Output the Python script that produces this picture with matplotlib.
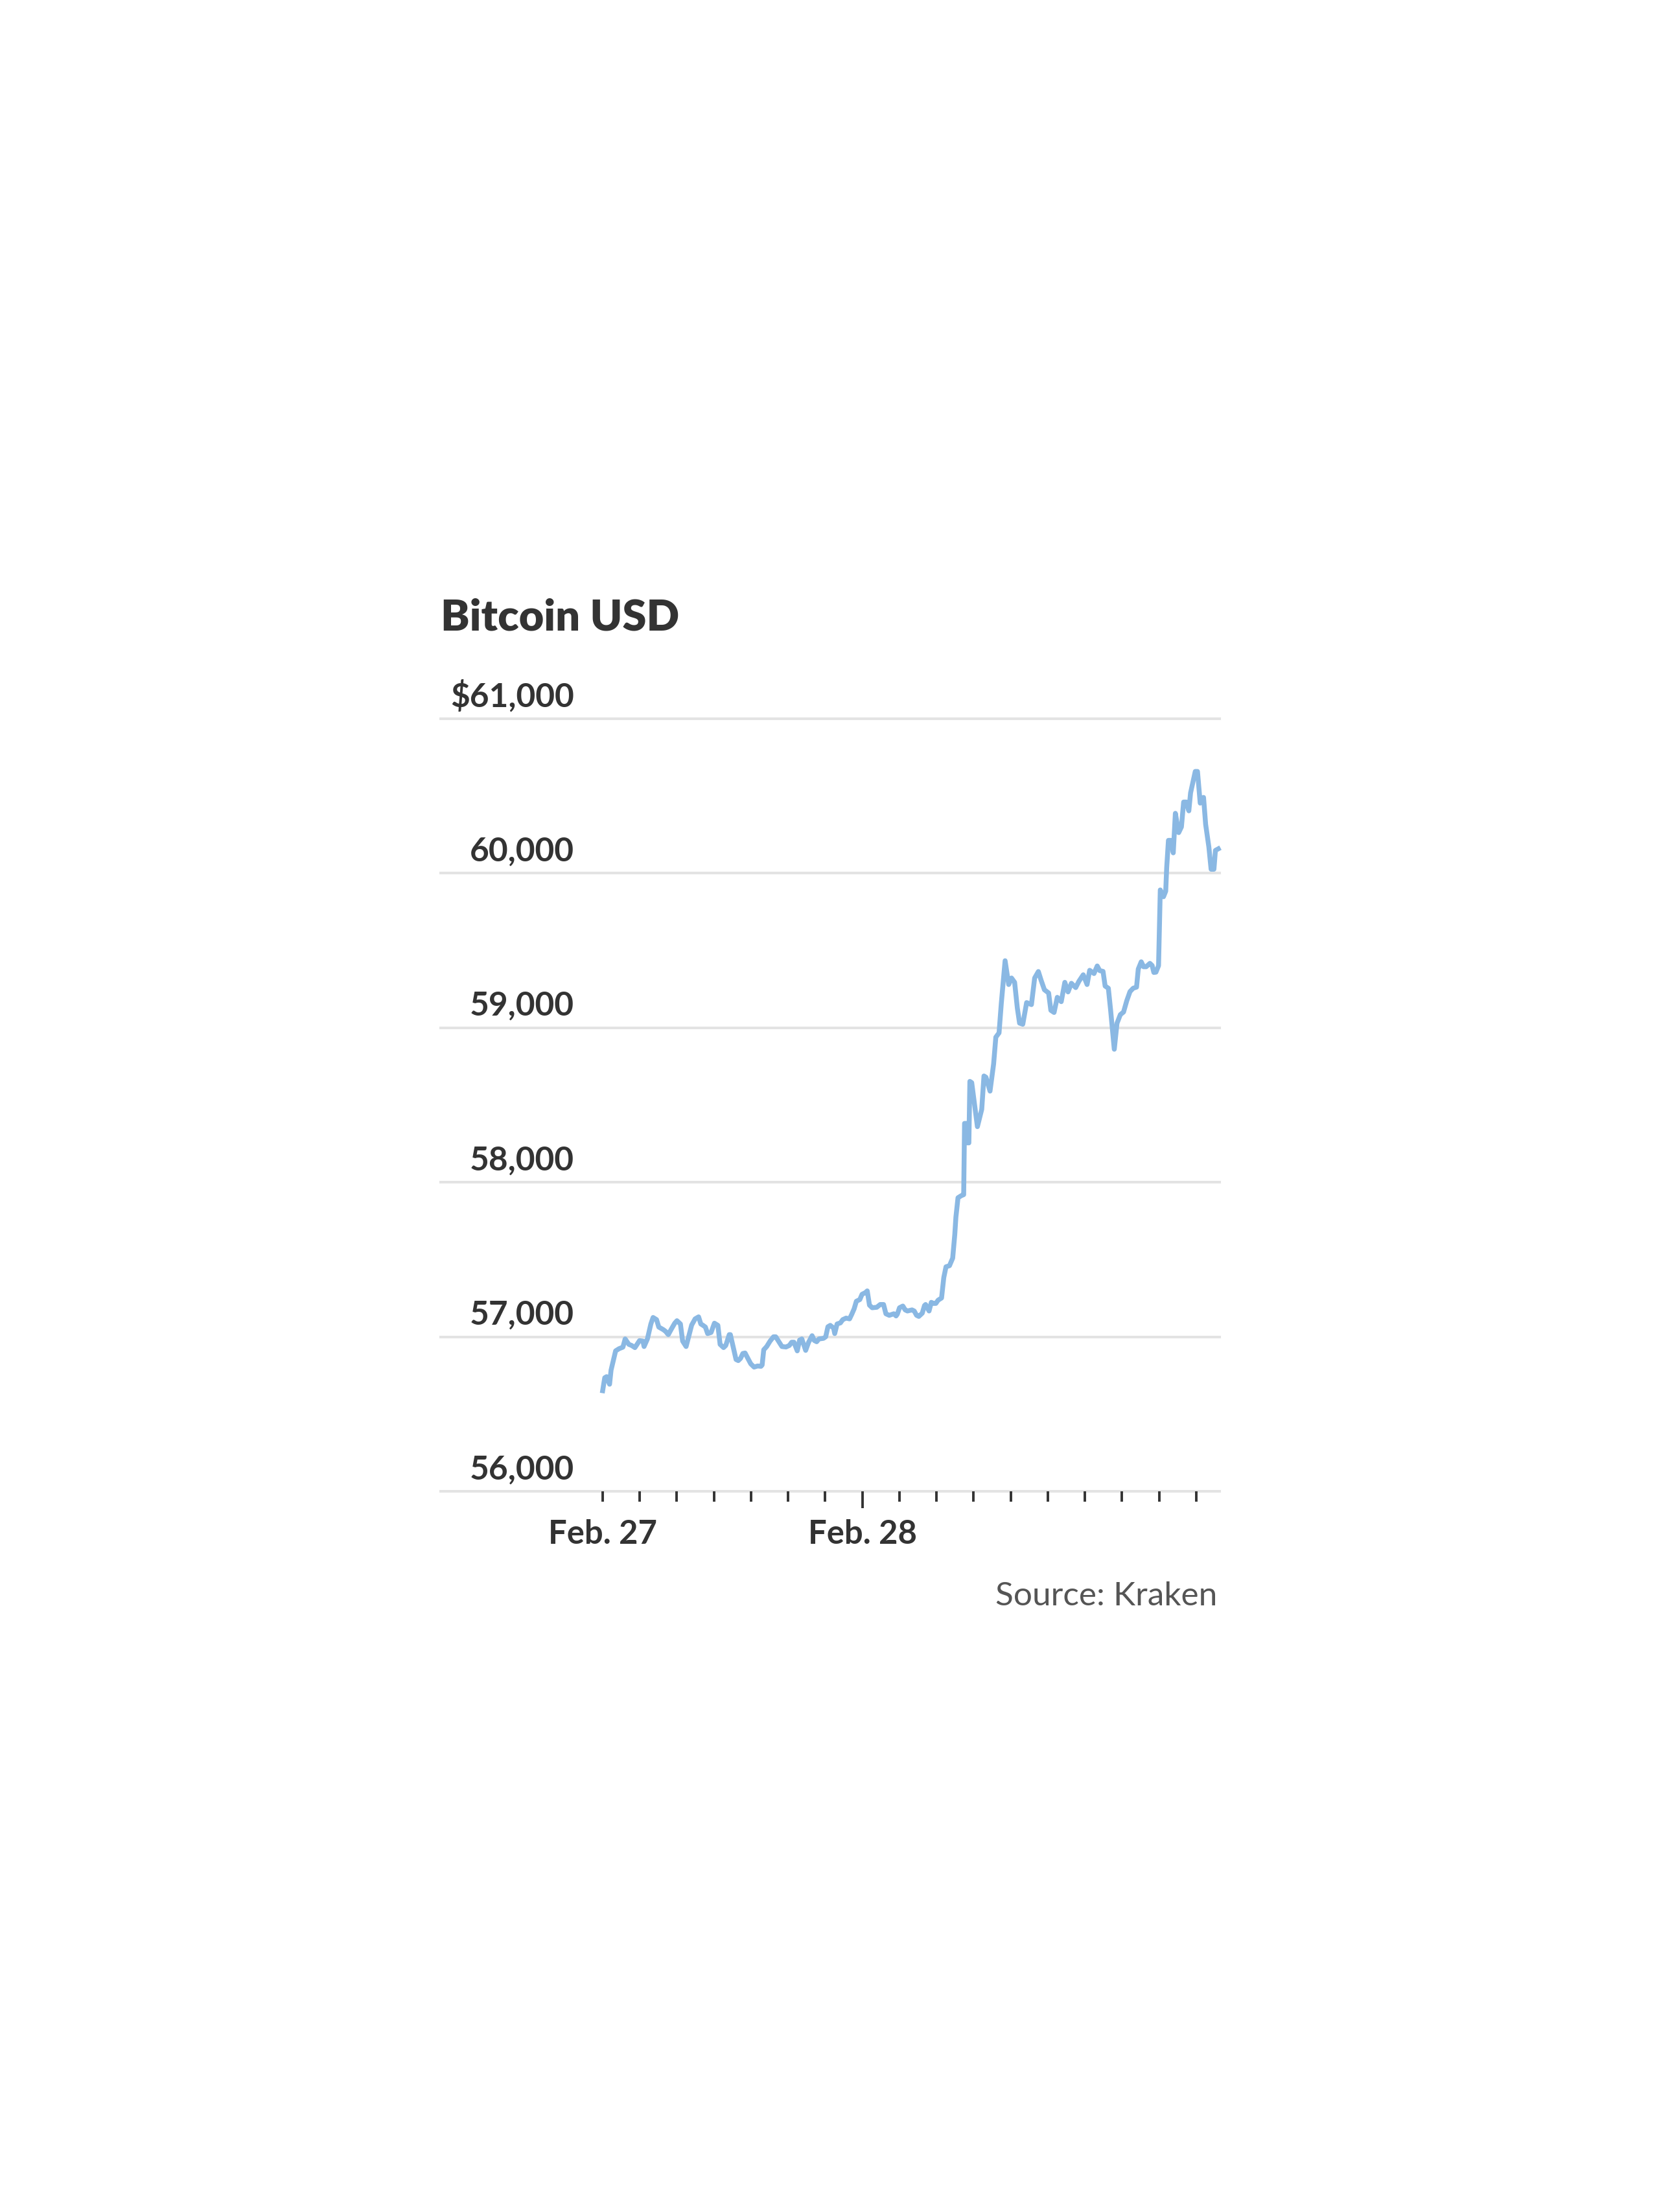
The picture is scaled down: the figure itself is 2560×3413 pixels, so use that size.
import matplotlib
matplotlib.use("Agg")
import matplotlib.pyplot as plt
from matplotlib.transforms import blended_transform_factory, offset_copy

plt.rcParams['font.family'] = ['Lato', 'DejaVu Sans']

# hours since Feb. 27 label tick, price in USD
hours = [0.0, 0.17, 0.32, 0.56, 0.68, 1.05, 1.33, 1.64, 1.82, 2.12, 2.34, 2.61, 2.98, 3.26,
         3.35, 3.62, 3.9, 4.08, 4.36, 4.54, 4.91, 5.09, 5.31, 5.55, 5.83, 6.01, 6.29, 6.47,
         6.75, 6.93, 7.2, 7.48, 7.76, 7.94, 8.12, 8.31, 8.49, 8.77, 9.04, 9.32, 9.5, 9.78,
         9.96, 10.24, 10.33, 10.51, 10.79, 10.97, 11.15, 11.34, 11.52, 11.7, 11.98, 12.25,
         12.53, 12.81, 12.9, 13.03, 13.27, 13.54, 13.82, 14.0, 14.28, 14.5, 14.83, 15.1,
         15.29, 15.47, 15.74, 15.93, 16.11, 16.42, 16.66, 16.94, 17.12, 17.31, 17.49, 17.86,
         18.04, 18.22, 18.41, 18.68, 18.77, 18.96, 19.23, 19.42, 19.69, 19.97, 20.15, 20.34,
         20.52, 20.8, 20.98, 21.25, 21.4, 21.58, 21.8, 22.17, 22.45, 22.72, 22.91, 23.18,
         23.55, 23.73, 23.83, 24.01, 24.28, 24.47, 24.65, 25.02, 25.2, 25.39, 25.57, 25.85,
         26.03, 26.12, 26.4, 26.58, 26.76, 26.95, 27.13, 27.41, 27.59, 27.77, 28.05, 28.31,
         28.48, 28.57, 28.74, 29.0, 29.2, 29.27, 29.45, 29.5, 29.62, 29.7, 29.85, 30.31,
         30.66, 30.84, 31.0, 31.33, 31.62, 31.8, 32.06, 32.24, 32.55, 32.84, 33.07, 33.32,
         33.54, 33.72, 33.98, 34.29, 34.68, 34.94, 35.24, 35.46, 35.73, 36.07, 36.25, 36.51,
         36.77, 37.09, 37.38, 37.64, 37.91, 38.26, 38.52, 38.87, 39.18, 39.39, 39.74, 40.0,
         40.2, 40.47, 40.64, 40.9, 41.08, 41.38, 41.6, 41.87, 42.13, 42.39, 42.65, 42.91,
         43.18, 43.32, 43.56, 43.75, 43.96, 44.26, 44.44, 44.58, 44.75, 44.96, 45.1, 45.36,
         45.54, 45.62, 45.76, 45.97, 46.15, 46.32, 46.59, 46.81, 46.99, 47.2, 47.41, 47.55,
         47.93, 48.11, 48.33, 48.6, 48.77, 49.03, 49.21, 49.44, 49.56, 49.79]

prices = [56651, 56735, 56742, 56693, 56784, 56909, 56923, 56933, 56986, 56951, 56944, 56930,
          56975, 56972, 56937, 56986, 57083, 57125, 57111, 57063, 57046, 57035, 57014, 57049,
          57088, 57104, 57083, 56972, 56937, 56993, 57076, 57116, 57129, 57083, 57074, 57063,
          57021, 57028, 57088, 57074, 56951, 56930, 56944, 57014, 57014, 56951, 56853, 56846,
          56860, 56892, 56895, 56867, 56825, 56804, 56811, 56809, 56818, 56916, 56937, 56972,
          57000, 57000, 56965, 56937, 56934, 56944, 56965, 56965, 56909, 56979, 56986, 56912,
          56965, 57007, 56976, 56968, 56986, 56990, 57000, 57065, 57074, 57056, 57021, 57083,
          57090, 57111, 57121, 57116, 57146, 57181, 57230, 57241, 57275, 57286, 57297, 57205,
          57188, 57191, 57209, 57209, 57149, 57139, 57149, 57135, 57146, 57188, 57199, 57174,
          57167, 57174, 57167, 57139, 57132, 57153, 57202, 57209, 57167, 57223, 57216, 57216,
          57237, 57251, 57383, 57453, 57460, 57509, 57662, 57774, 57900, 57913, 57920, 58381,
          58381, 58255, 58255, 58653, 58645, 58360, 58472, 58688, 58680, 58590, 58765, 58939,
          58967, 59155, 59434, 59280, 59322, 59294, 59127, 59030, 59023, 59163, 59150, 59322,
          59364, 59308, 59246, 59225, 59113, 59099, 59197, 59169, 59294, 59232, 59288, 59260,
          59301, 59343, 59280, 59372, 59351, 59400, 59370, 59365, 59270, 59256, 59117, 58861,
          59029, 59085, 59102, 59175, 59234, 59256, 59263, 59380, 59427, 59395, 59395, 59417,
          59403, 59358, 59360, 59402, 59892, 59848, 59884, 60038, 60213, 60213, 60132, 60388,
          60263, 60300, 60461, 60461, 60404, 60520, 60659, 60659, 60454, 60491, 60316, 60170,
          60026, 60026, 60148, 60158]

y_ticks = [56000, 57000, 58000, 59000, 60000, 61000]
y_labels = ['56,000', '57,000', '58,000', '59,000', '60,000', '$61,000']
x_minor = [0, 3, 6, 9, 12, 15, 18, 24, 27, 30, 33, 36, 39, 42, 45, 48]
x_minor_labels = ['Feb. 27'] + [''] * 15
x_major = [21]
x_major_labels = ['Feb. 28']

W, H = 2560, 3413
fig = plt.figure(figsize=(W / 100, H / 100), dpi=100)
fig.patch.set_facecolor('white')

ax = fig.add_axes([680 / W, 1 - 2301 / H, (1882 - 680) / W, (2301 - 1109) / H])
ax.set_xlim(-13.1, 49.9)
ax.set_ylim(56000, 61000)
for s in ax.spines.values():
    s.set_visible(False)

# gridlines
for yv in y_ticks:
    ax.axhline(yv, color='#e3e3e3', lw=2.9, zorder=1, clip_on=False)

ax.plot(hours, prices, color='#8ab8e3', lw=5.4, zorder=3, clip_on=False)

# y labels sit above their gridline
trans = blended_transform_factory(ax.transAxes, ax.transData)
trans = offset_copy(trans, fig=fig, y=13.5, units='points')
for yv, lab in zip(y_ticks, y_labels):
    ax.text(0.1714, yv, lab, transform=trans, ha='right', va='baseline',
            fontsize=37, fontweight='bold', color='#333333')
ax.set_yticks([])

# x ticks
ax.set_xticks(x_major, labels=x_major_labels)
ax.set_xticks(x_minor, labels=x_minor_labels, minor=True)
ax.tick_params(axis='x', which='major', length=18.7, width=2.8, color='#333333',
               pad=12.5, labelsize=36.5, labelcolor='#333333')
ax.tick_params(axis='x', which='minor', length=11.5, width=2.8, color='#333333',
               pad=19.7, labelsize=36.5, labelcolor='#333333')
for lab in ax.get_xticklabels(minor=False) + ax.get_xticklabels(minor=True):
    lab.set_fontweight('bold')

fig.text(680 / W, 1 - 972 / H, 'Bitcoin USD', fontsize=48, fontweight='heavy',
         color='#333333', ha='left', va='baseline')
fig.text(1878 / W, 1 - 2477 / H, 'Source: Kraken', fontsize=37, color='#555555',
         ha='right', va='baseline')

fig.savefig('out.png', dpi=100, facecolor='white')
